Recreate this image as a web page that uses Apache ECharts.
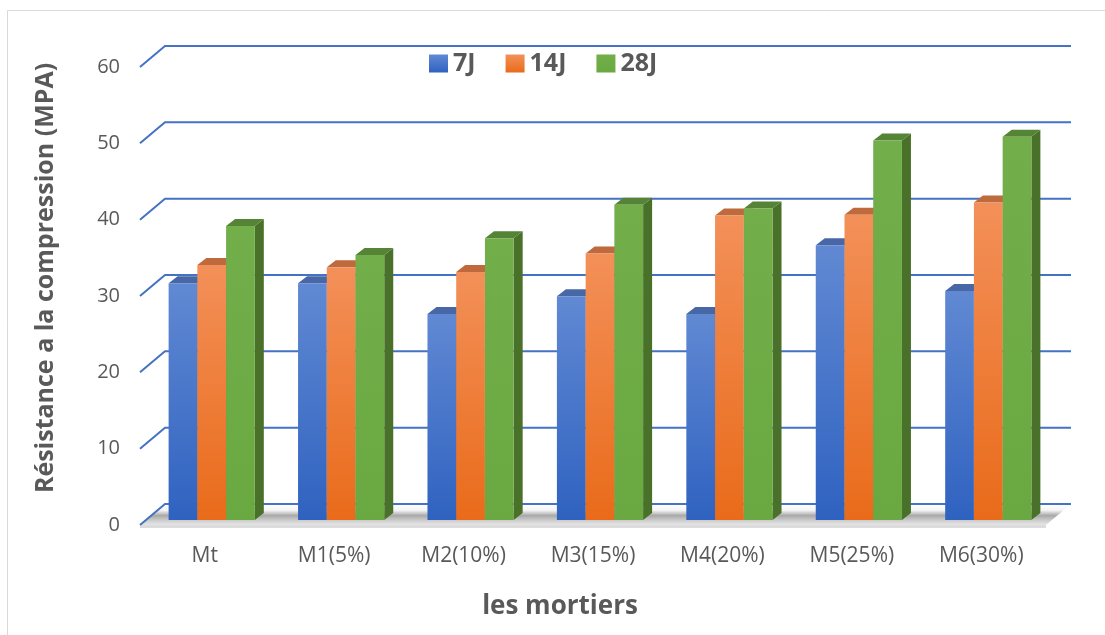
<!DOCTYPE html>
<html>
<head>
<meta charset="utf-8">
<title>Résistance à la compression des mortiers</title>
<script src="https://cdn.jsdelivr.net/npm/echarts@6/dist/echarts.min.js"></script>
<style>
  html, body { margin: 0; padding: 0; background: #ffffff; }
  #chart { width: 1105px; height: 635px; }
</style>
</head>
<body>
<div id="chart"></div>
<script>
// Compressive strength (MPa) of each mortar at 7, 14 and 28 days
const categories = ['Mt', 'M1(5%)', 'M2(10%)', 'M3(15%)', 'M4(20%)', 'M5(25%)', 'M6(30%)'];
const seriesNames = ['7J', '14J', '28J'];
const values7J = [31.0, 31.0, 27.0, 29.3, 27.0, 36.0, 30.0];
const values14J = [33.4, 33.1, 32.5, 34.9, 39.9, 40.0, 41.6];
const values28J = [38.5, 34.7, 36.9, 41.3, 40.8, 49.7, 50.2];
const yTicks = [0, 10, 20, 30, 40, 50, 60];

const FONT = '"Open Sans", "Noto Sans", sans-serif';
const TEXT = '#595959';
const GRID_BLUE = '#4472C4';

// Perspective offsets of the 3D box
const WALL_DX = 25, WALL_DY = -21;   // front plane -> back wall
const BAR_DX = 7, BAR_DY = -5;       // front plane -> bar front faces
const DEPTH_DX = 9, DEPTH_DY = -7;   // bar thickness

function vGrad(top, bottom) {
  return new echarts.graphic.LinearGradient(0, 0, 0, 1, [
    { offset: 0, color: top }, { offset: 1, color: bottom }
  ]);
}

const palette = [
  { front: ['#6189D3', '#2F62C0'], top: '#4767A7', side: '#2B4F93', legend: '#4472C4' },
  { front: ['#F39059', '#E96B1A'], top: '#BE6A3D', side: '#B0561C', legend: '#ED7D31' },
  { front: ['#72AE4A', '#6AA942'], top: '#558436', side: '#4A7129', legend: '#70AD47' }
];

// Back wall gridlines with their diagonal leg on the left side wall
function renderGridLine(params, api) {
  const cs = params.coordSys;
  const v = api.value(1);
  const y = api.coord([0, v])[1];
  const x0 = cs.x, x1 = cs.x + cs.width;
  return {
    type: 'polyline',
    shape: { points: [[x0, y], [x0 + WALL_DX, y + WALL_DY], [x1 + WALL_DX, y + WALL_DY]] },
    style: { stroke: GRID_BLUE, lineWidth: 2, fill: null },
    silent: true
  };
}

// Floor slab with its soft shadow band
function renderFloor(params, api) {
  const cs = params.coordSys;
  const y = api.coord([0, 0])[1];
  const x0 = cs.x, x1 = cs.x + cs.width;
  return {
    type: 'group',
    silent: true,
    children: [
      {
        type: 'polygon',
        shape: { points: [[x0, y], [x0 + WALL_DX, y + WALL_DY], [x1 + WALL_DX, y + WALL_DY], [x1, y]] },
        style: {
          fill: new echarts.graphic.LinearGradient(0, 0, 0, 1, [
            { offset: 0, color: '#ffffff' },
            { offset: 0.3, color: '#f4f4f4' },
            { offset: 0.55, color: '#a9a9a9' },
            { offset: 0.8, color: '#cfcfcf' },
            { offset: 1, color: '#e6e6e6' }
          ])
        }
      },
      {
        type: 'rect',
        shape: { x: x0, y: y, width: x1 - x0, height: 3 },
        style: { fill: '#dcdcdc' }
      }
    ]
  };
}

function makeBarRenderer(idx) {
  const c = palette[idx];
  return function (params, api) {
    const i = api.value(0);
    const v = api.value(1);
    const band = api.size([1, 0])[0];
    const bw = band * 0.222;
    const cx = api.coord([i, 0])[0];
    const x = cx - 1.5 * bw + idx * bw + BAR_DX;
    const yb = api.coord([i, 0])[1] + BAR_DY;
    const yt = api.coord([i, v])[1] + BAR_DY;
    return {
      type: 'group',
      children: [
        {
          type: 'polygon',
          shape: { points: [[x + bw, yt], [x + bw + DEPTH_DX, yt + DEPTH_DY], [x + bw + DEPTH_DX, yb + DEPTH_DY], [x + bw, yb]] },
          style: { fill: c.side }
        },
        {
          type: 'polygon',
          shape: { points: [[x, yt], [x + bw, yt], [x + bw + DEPTH_DX, yt + DEPTH_DY], [x + DEPTH_DX, yt + DEPTH_DY]] },
          style: { fill: c.top }
        },
        {
          type: 'rect',
          shape: { x: x, y: yt, width: bw, height: yb - yt },
          style: { fill: vGrad(c.front[0], c.front[1]) }
        }
      ]
    };
  };
}

const seriesValues = [values7J, values14J, values28J];

const chart = echarts.init(document.getElementById('chart'), null, { renderer: 'canvas' });

const option = {
  backgroundColor: '#ffffff',
  animation: false,
  textStyle: { fontFamily: FONT },
  grid: { left: 140, right: 59, top: 67, bottom: 110, containLabel: false },
  legend: {
    left: 424,
    top: 46,
    itemWidth: 19,
    itemHeight: 18,
    itemGap: 30,
    icon: 'rect',
    selectedMode: false,
    textStyle: { fontFamily: FONT, fontSize: 25, fontWeight: 'bold', color: TEXT },
    data: seriesNames.map((n, k) => ({
      name: n,
      itemStyle: { color: vGrad(palette[k].front[0], palette[k].front[1]) }
    }))
  },
  xAxis: {
    type: 'category',
    data: categories,
    axisLine: { show: false },
    axisTick: { show: false },
    splitLine: { show: false },
    axisLabel: { color: TEXT, fontSize: 21, fontFamily: FONT, margin: 21 }
  },
  yAxis: {
    type: 'value',
    min: 0,
    max: 60,
    interval: 10,
    axisLine: { show: false },
    axisTick: { show: false },
    splitLine: { show: false },
    axisLabel: { color: TEXT, fontSize: 20, fontFamily: FONT, margin: 20 }
  },
  graphic: [
    {
      type: 'rect',
      shape: { x: 7.5, y: 10.5, width: 1110, height: 640 },
      style: { fill: null, stroke: '#d9d9d9', lineWidth: 1 },
      silent: true,
      z: -10
    },
    {
      type: 'text',
      x: 46,
      y: 278,
      rotation: Math.PI / 2,
      style: {
        text: 'Résistance a la compression (MPA)',
        font: 'bold 25px ' + FONT,
        fill: TEXT,
        align: 'center',
        verticalAlign: 'middle'
      }
    },
    {
      type: 'text',
      x: 560,
      y: 607,
      style: {
        text: 'les mortiers',
        font: 'bold 26px ' + FONT,
        fill: TEXT,
        align: 'center',
        verticalAlign: 'middle'
      }
    }
  ],
  series: [
    {
      type: 'custom',
      name: 'floor',
      renderItem: renderFloor,
      data: [[0, 0]],
      z: 1,
      silent: true
    },
    {
      type: 'custom',
      name: 'gridlines',
      renderItem: renderGridLine,
      data: yTicks.map(v => [0, v]),
      z: 2,
      silent: true
    }
  ].concat(seriesNames.map((n, k) => ({
    type: 'custom',
    name: n,
    renderItem: makeBarRenderer(k),
    itemStyle: { color: palette[k].legend },
    data: seriesValues[k].map((v, i) => [i, v]),
    encode: { x: 0, y: 1 },
    z: 3 + k
  })))
};

chart.setOption(option);
</script>
</body>
</html>
